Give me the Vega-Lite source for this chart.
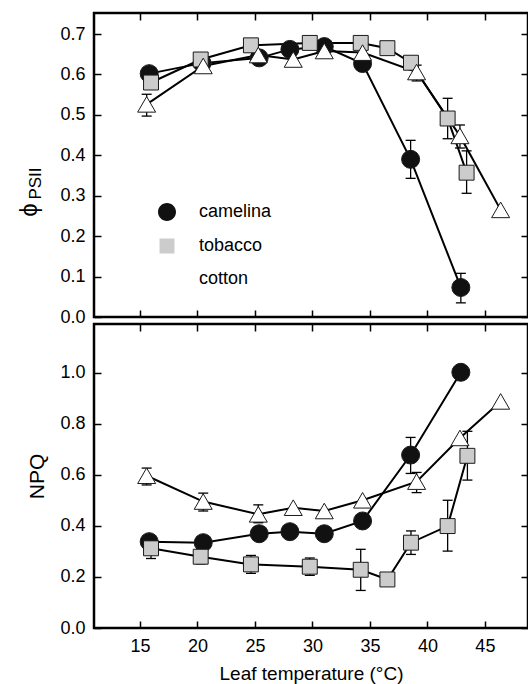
{
  "$schema": "https://vega.github.io/schema/vega-lite/v6.json",
  "padding": {"left": 15, "top": 11, "right": 0, "bottom": 0},
  "background": "white",
  "datasets": {
    "phi": [
      {"s": "camelina", "t": 15.8, "v": 0.602},
      {"s": "camelina", "t": 20.4, "v": 0.628},
      {"s": "camelina", "t": 25.37, "v": 0.641},
      {"s": "camelina", "t": 28.04, "v": 0.662},
      {"s": "camelina", "t": 31.03, "v": 0.669},
      {"s": "camelina", "t": 34.36, "v": 0.627},
      {"s": "camelina", "t": 38.54, "v": 0.39, "lo": 0.343, "hi": 0.437},
      {"s": "camelina", "t": 42.91, "v": 0.073, "lo": 0.035, "hi": 0.108},
      {"s": "tobacco", "t": 15.96, "v": 0.58},
      {"s": "tobacco", "t": 20.28, "v": 0.637},
      {"s": "tobacco", "t": 24.65, "v": 0.672},
      {"s": "tobacco", "t": 29.77, "v": 0.678},
      {"s": "tobacco", "t": 34.2, "v": 0.678},
      {"s": "tobacco", "t": 36.52, "v": 0.665},
      {"s": "tobacco", "t": 38.57, "v": 0.629},
      {"s": "tobacco", "t": 41.76, "v": 0.491, "lo": 0.441, "hi": 0.541},
      {"s": "tobacco", "t": 43.41, "v": 0.357, "lo": 0.306, "hi": 0.411},
      {"s": "cotton", "t": 15.58, "v": 0.526, "lo": 0.497, "hi": 0.551},
      {"s": "cotton", "t": 20.5, "v": 0.621},
      {"s": "cotton", "t": 25.29, "v": 0.648},
      {"s": "cotton", "t": 28.33, "v": 0.637},
      {"s": "cotton", "t": 31.03, "v": 0.658},
      {"s": "cotton", "t": 34.36, "v": 0.654},
      {"s": "cotton", "t": 39.06, "v": 0.606, "lo": 0.584, "hi": 0.623},
      {"s": "cotton", "t": 42.83, "v": 0.448, "lo": 0.418, "hi": 0.475},
      {"s": "cotton", "t": 46.37, "v": 0.265}
    ],
    "npq": [
      {"s": "camelina", "t": 15.8, "v": 0.338},
      {"s": "camelina", "t": 20.5, "v": 0.334},
      {"s": "camelina", "t": 25.37, "v": 0.369},
      {"s": "camelina", "t": 28.04, "v": 0.377},
      {"s": "camelina", "t": 31.03, "v": 0.369},
      {"s": "camelina", "t": 34.36, "v": 0.419},
      {"s": "camelina", "t": 38.54, "v": 0.677, "lo": 0.605, "hi": 0.746},
      {"s": "camelina", "t": 42.91, "v": 1.001},
      {"s": "tobacco", "t": 15.96, "v": 0.312, "lo": 0.272, "hi": 0.352},
      {"s": "tobacco", "t": 20.28, "v": 0.279, "lo": 0.251, "hi": 0.307},
      {"s": "tobacco", "t": 24.65, "v": 0.249, "lo": 0.214, "hi": 0.284},
      {"s": "tobacco", "t": 29.77, "v": 0.24, "lo": 0.206, "hi": 0.274},
      {"s": "tobacco", "t": 34.2, "v": 0.228, "lo": 0.147, "hi": 0.308},
      {"s": "tobacco", "t": 36.52, "v": 0.19},
      {"s": "tobacco", "t": 38.57, "v": 0.334, "lo": 0.288, "hi": 0.38},
      {"s": "tobacco", "t": 41.76, "v": 0.399, "lo": 0.301, "hi": 0.5},
      {"s": "tobacco", "t": 43.48, "v": 0.674, "lo": 0.579, "hi": 0.77},
      {"s": "cotton", "t": 15.58, "v": 0.596, "lo": 0.56, "hi": 0.626},
      {"s": "cotton", "t": 20.5, "v": 0.495, "lo": 0.458, "hi": 0.528},
      {"s": "cotton", "t": 25.29, "v": 0.445, "lo": 0.412, "hi": 0.482},
      {"s": "cotton", "t": 28.33, "v": 0.471},
      {"s": "cotton", "t": 31.03, "v": 0.458},
      {"s": "cotton", "t": 34.36, "v": 0.5},
      {"s": "cotton", "t": 39.06, "v": 0.573, "lo": 0.53, "hi": 0.609},
      {"s": "cotton", "t": 42.83, "v": 0.744},
      {"s": "cotton", "t": 46.37, "v": 0.887}
    ]
  },
  "spacing": 7,
  "bounds": "flush",
  "vconcat": [
    {
      "data": {"name": "phi"},
      "width": 434,
      "height": 304,
      "layer": [
        {
          "layer": [
            {
              "transform": [{"filter": "datum.lo != null"}],
              "mark": {"type": "rule", "color": "black", "strokeWidth": 1.3},
              "encoding": {
                "x": {"field": "t", "type": "quantitative", "scale": {"domain": [11, 48.75], "nice": false, "zero": false},
                  "axis": {"orient": "bottom", "values": [15, 20, 25, 30, 35, 40, 45], "labels": false, "title": null}},
                "y": {"field": "lo", "type": "quantitative", "scale": {"domain": [0, 0.752], "nice": false},
                  "axis": {"orient": "left", "values": [0, 0.1, 0.2, 0.3, 0.4, 0.5, 0.6, 0.7], "format": ".1f", "title": null}},
                "y2": {"field": "hi"}
              }
            },
            {
              "transform": [{"filter": "datum.lo != null"}],
              "mark": {"type": "tick", "orient": "horizontal", "size": 10, "thickness": 1.3, "color": "black", "opacity": 1},
              "encoding": {
                "x": {"field": "t", "type": "quantitative"},
                "y": {"field": "lo", "type": "quantitative"}
              }
            },
            {
              "transform": [{"filter": "datum.lo != null"}],
              "mark": {"type": "tick", "orient": "horizontal", "size": 10, "thickness": 1.3, "color": "black", "opacity": 1},
              "encoding": {
                "x": {"field": "t", "type": "quantitative"},
                "y": {"field": "hi", "type": "quantitative"}
              }
            },
            {
              "mark": {"type": "line", "color": "black", "strokeWidth": 2},
              "encoding": {
                "x": {"field": "t", "type": "quantitative"},
                "y": {"field": "v", "type": "quantitative"},
                "detail": {"field": "s"}
              }
            },
            {
              "mark": {"type": "point", "filled": true, "stroke": "#1a1a1a", "strokeWidth": 1, "opacity": 1, "size": 324},
              "encoding": {
                "x": {"field": "t", "type": "quantitative"},
                "y": {"field": "v", "type": "quantitative"},
                "shape": {"field": "s", "type": "nominal",
                  "scale": {"domain": ["camelina", "tobacco", "cotton"], "range": ["circle", "M-0.83,-0.83H0.83V0.83H-0.83Z", "triangle-up"]},
                  "legend": null},
                "fill": {"field": "s", "type": "nominal",
                  "scale": {"domain": ["camelina", "tobacco", "cotton"], "range": ["#111111", "#cccccc", "#ffffff"]},
                  "legend": null}
              }
            }
          ]
        },
        {
          "transform": [{"filter": "false"}],
          "mark": {"type": "point", "filled": true, "stroke": "#111111", "strokeWidth": 1.5, "opacity": 1, "size": 324},
          "encoding": {
            "x": {"field": "t", "type": "quantitative", "axis": null},
            "y": {"field": "v", "type": "quantitative", "axis": null},
            "shape": {"field": "s", "type": "nominal",
              "scale": {"domain": ["camelina", "tobacco", "cotton"],
                "range": ["M-3,0H-1M1,0H3M-1,0A1,1 0 1,0 1,0A1,1 0 1,0 -1,0Z", "M-3,0H-0.83M0.83,0H3M-0.83,-0.83H0.83V0.83H-0.83Z", "M-3,0.3H-0.67M0.67,0.3H3M0,-0.87L1,0.87H-1Z"]},
              "legend": {"orient": "none", "legendX": 63, "legendY": 189, "title": null, "direction": "vertical", "padding": 0,
                "symbolSize": 324, "symbolStrokeWidth": 1.5, "symbolStrokeColor": "#111111", "labelFontSize": 18, "labelColor": "black", "labelOffset": 22, "rowPadding": 11,
                "encode": {"symbols": {"stroke": {"value": "#111111"}, "strokeWidth": {"value": 1.5}}}}},
            "fill": {"field": "s", "type": "nominal",
              "scale": {"domain": ["camelina", "tobacco", "cotton"], "range": ["#111111", "#cccccc", "#ffffff"]},
              "legend": {"orient": "none", "legendX": 63, "legendY": 189, "title": null, "direction": "vertical", "padding": 0,
                "symbolSize": 324, "symbolStrokeWidth": 1.5, "symbolStrokeColor": "#111111", "labelFontSize": 18, "labelColor": "black", "labelOffset": 22, "rowPadding": 11,
                "encode": {"symbols": {"stroke": {"value": "#111111"}, "strokeWidth": {"value": 1.5}}}}}
          }
        },
        {
          "mark": {"type": "point", "opacity": 0},
          "encoding": {
            "x": {"field": "t", "type": "quantitative",
              "axis": {"orient": "top", "values": [15, 20, 25, 30, 35, 40, 45], "labels": false, "title": null}},
            "y": {"field": "v", "type": "quantitative",
              "axis": {"orient": "right", "values": [0, 0.1, 0.2, 0.3, 0.4, 0.5, 0.6, 0.7], "labels": false, "title": null}}
          }
        },
        {
          "mark": {"type": "point", "opacity": 0},
          "encoding": {
            "x": {"field": "t", "type": "quantitative", "axis": null},
            "y": {"field": "v", "type": "quantitative",
              "axis": {"orient": "left", "labels": false, "ticks": false, "domain": false, "offset": 0, "title": "PSII", "titleFontSize": 17,
                "titleX": -54, "titleY": 170, "titleAngle": 270, "titleAlign": "center", "titleBaseline": "alphabetic"}}
          }
        },
        {
          "mark": {"type": "point", "opacity": 0},
          "encoding": {
            "x": {"field": "t", "type": "quantitative", "axis": null},
            "y": {"field": "v", "type": "quantitative",
              "axis": {"orient": "left", "labels": false, "ticks": false, "domain": false, "offset": 0, "title": "ϕ", "titleFontSize": 24,
                "titleX": -58, "titleY": 196.5, "titleAngle": 270, "titleAlign": "center", "titleBaseline": "alphabetic"}}
          }
        }
      ],
      "resolve": {"axis": {"x": "independent", "y": "independent"}, "scale": {"shape": "independent", "fill": "independent"}}
    },
    {
      "data": {"name": "npq"},
      "width": 434,
      "height": 304,
      "layer": [
        {
          "layer": [
            {
              "transform": [{"filter": "datum.lo != null"}],
              "mark": {"type": "rule", "color": "black", "strokeWidth": 1.3},
              "encoding": {
                "x": {"field": "t", "type": "quantitative", "scale": {"domain": [11, 48.75], "nice": false, "zero": false},
                  "axis": {"orient": "bottom", "values": [15, 20, 25, 30, 35, 40, 45],
                    "title": "Leaf temperature (°C)", "titleFontSize": 19, "titleY": 58, "titleBaseline": "alphabetic"}},
                "y": {"field": "lo", "type": "quantitative", "scale": {"domain": [0, 1.19], "nice": false},
                  "axis": {"orient": "left", "values": [0, 0.2, 0.4, 0.6, 0.8, 1.0], "format": ".1f",
                    "title": "NPQ", "titleFontSize": 21, "titleX": -58, "titleY": 152, "titleAngle": 270, "titleAlign": "center", "titleBaseline": "alphabetic"}},
                "y2": {"field": "hi"}
              }
            },
            {
              "transform": [{"filter": "datum.lo != null"}],
              "mark": {"type": "tick", "orient": "horizontal", "size": 10, "thickness": 1.3, "color": "black", "opacity": 1},
              "encoding": {
                "x": {"field": "t", "type": "quantitative"},
                "y": {"field": "lo", "type": "quantitative"}
              }
            },
            {
              "transform": [{"filter": "datum.lo != null"}],
              "mark": {"type": "tick", "orient": "horizontal", "size": 10, "thickness": 1.3, "color": "black", "opacity": 1},
              "encoding": {
                "x": {"field": "t", "type": "quantitative"},
                "y": {"field": "hi", "type": "quantitative"}
              }
            },
            {
              "mark": {"type": "line", "color": "black", "strokeWidth": 2},
              "encoding": {
                "x": {"field": "t", "type": "quantitative"},
                "y": {"field": "v", "type": "quantitative"},
                "detail": {"field": "s"}
              }
            },
            {
              "mark": {"type": "point", "filled": true, "stroke": "#1a1a1a", "strokeWidth": 1, "opacity": 1, "size": 324},
              "encoding": {
                "x": {"field": "t", "type": "quantitative"},
                "y": {"field": "v", "type": "quantitative"},
                "shape": {"field": "s", "type": "nominal",
                  "scale": {"domain": ["camelina", "tobacco", "cotton"], "range": ["circle", "M-0.83,-0.83H0.83V0.83H-0.83Z", "triangle-up"]}, "legend": null},
                "fill": {"field": "s", "type": "nominal",
                  "scale": {"domain": ["camelina", "tobacco", "cotton"], "range": ["#111111", "#cccccc", "#ffffff"]}, "legend": null}
              }
            }
          ]
        },
        {
          "mark": {"type": "point", "opacity": 0},
          "encoding": {
            "x": {"field": "t", "type": "quantitative",
              "axis": {"orient": "top", "values": [15, 20, 25, 30, 35, 40, 45], "labels": false, "title": null}},
            "y": {"field": "v", "type": "quantitative",
              "axis": {"orient": "right", "values": [0, 0.2, 0.4, 0.6, 0.8, 1.0], "labels": false, "title": null}}
          }
        }
      ],
      "resolve": {"axis": {"x": "independent", "y": "independent"}}
    }
  ],
  "config": {
    "font": "Liberation Sans",
    "view": {"stroke": "black", "strokeWidth": 2.5},
    "axis": {"domain": false, "grid": false, "tickSize": 7, "offset": -7, "labelPadding": 9, "tickWidth": 1.5, "tickColor": "black",
      "labelFontSize": 18, "labelColor": "black", "titleColor": "black", "titleFontWeight": "normal"},
    "legend": {"labelFont": "Liberation Sans"}
  }
}
